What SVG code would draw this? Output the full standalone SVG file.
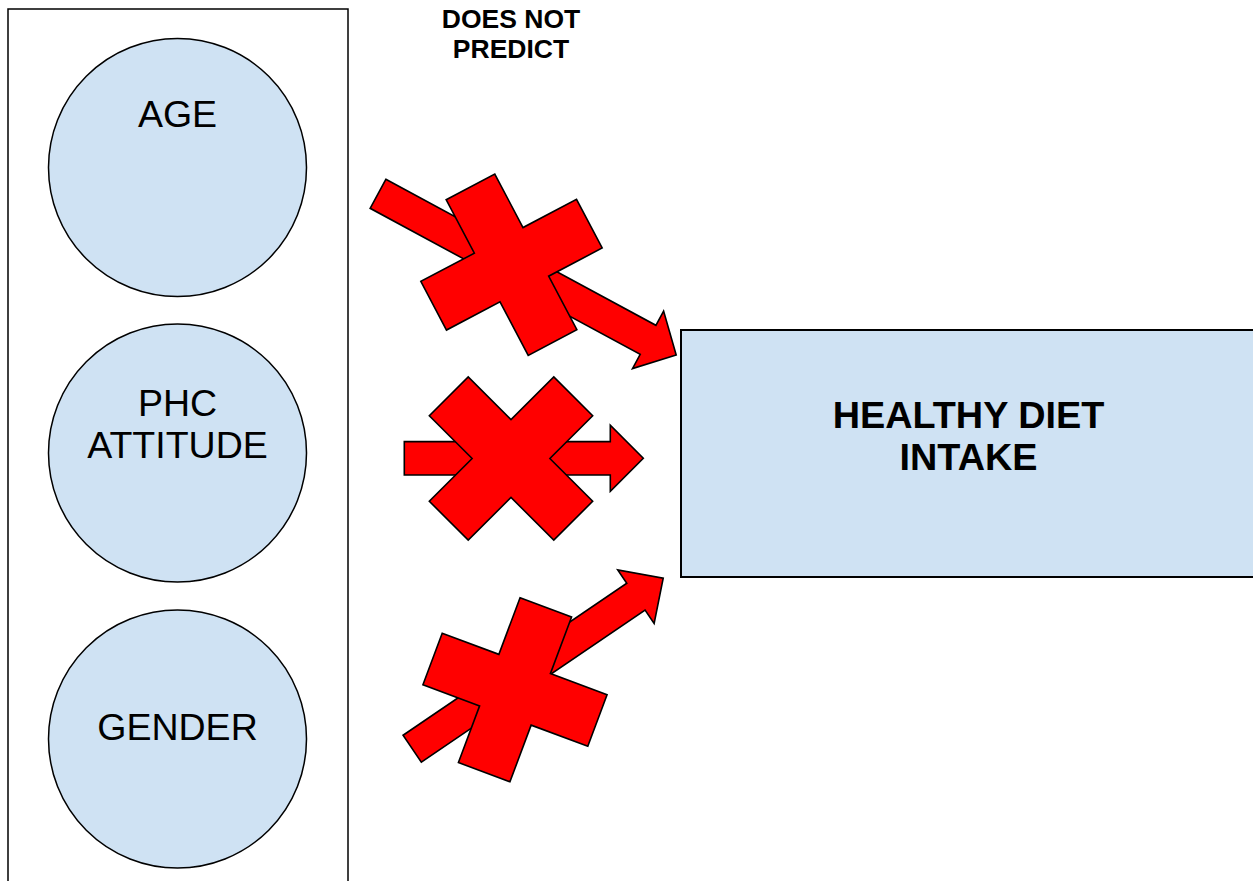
<svg xmlns="http://www.w3.org/2000/svg" width="1253" height="881" viewBox="0 0 1253 881">
  <defs>
    <style>
      .frame { fill: #ffffff; stroke: #000000; stroke-width: 1.5; }
      .factor { fill: #cfe2f3; stroke: #000000; stroke-width: 1.5; }
      .outcome { fill: #cfe2f3; stroke: #000000; stroke-width: 2; }
      .lbl { font-family: "Liberation Sans", Arial, sans-serif; font-size: 37.5px; fill: #000000; text-anchor: middle; }
      .bold { font-family: "Liberation Sans", Arial, sans-serif; font-weight: bold; fill: #000000; text-anchor: middle; }
      .red { fill: #ff0000; stroke: #000000; stroke-width: 1.6; stroke-linejoin: miter; }
    </style>
    <!-- plus-shaped cross, centred on the origin -->
    <path id="cross" d="M-27.5,-88 H27.5 V-27.5 H88 V27.5 H27.5 V88 H-27.5 V27.5 H-88 V-27.5 H-27.5 Z"/>
  </defs>

  <rect width="1253" height="881" fill="#ffffff"/>

  <!-- container holding the three predictors -->
  <g id="predictors">
    <rect class="frame" x="8" y="9" width="340" height="900"/>
  </g>

  <g id="node-age">
    <circle class="factor" cx="177.5" cy="167.5" r="129"/>
    <text class="lbl" x="177.5" y="127">AGE</text>
  </g>

  <g id="node-phc">
    <circle class="factor" cx="177.5" cy="453" r="129"/>
    <text class="lbl" x="177.5" y="415.5">PHC</text>
    <text class="lbl" x="177.5" y="458">ATTITUDE</text>
  </g>

  <g id="node-gender">
    <circle class="factor" cx="177.5" cy="739" r="129"/>
    <text class="lbl" x="177.5" y="740">GENDER</text>
  </g>

  <g id="node-outcome">
    <rect class="outcome" x="681" y="330" width="600" height="247"/>
    <text class="bold" x="968.5" y="427.5" font-size="37.8">HEALTHY DIET</text>
    <text class="bold" x="968.5" y="470" font-size="37.8">INTAKE</text>
  </g>

  <g id="caption">
    <text class="bold" x="511" y="28" font-size="26.5">DOES NOT</text>
    <text class="bold" x="511" y="58" font-size="26.5">PREDICT</text>
  </g>

  <!-- block arrows with crosses laid over them -->
  <g id="connectors">
    <path class="red" transform="translate(378,193.8) rotate(28.4)" d="M0,-16.5 L307,-16.5 L307,-32.7 L339,0 L307,32.7 L307,16.5 L0,16.5 Z"/>
    <path class="red" transform="translate(404.3,458.3)" d="M0,-16.7 L206,-16.7 L206,-33 L239,0 L206,33 L206,16.7 L0,16.7 Z"/>
    <path class="red" transform="translate(412.2,748.7) rotate(-34.2)" d="M0,-16.25 L270.5,-16.25 L270.5,-32.4 L303.5,0 L270.5,32.4 L270.5,16.25 L0,16.25 Z"/>

    <use href="#cross" class="red" transform="translate(511.5,264.7) rotate(-27.8)"/>
    <use href="#cross" class="red" transform="translate(511,458.5) rotate(45)"/>
    <use href="#cross" class="red" transform="translate(515,689.75) rotate(20.5)"/>
  </g>
</svg>
